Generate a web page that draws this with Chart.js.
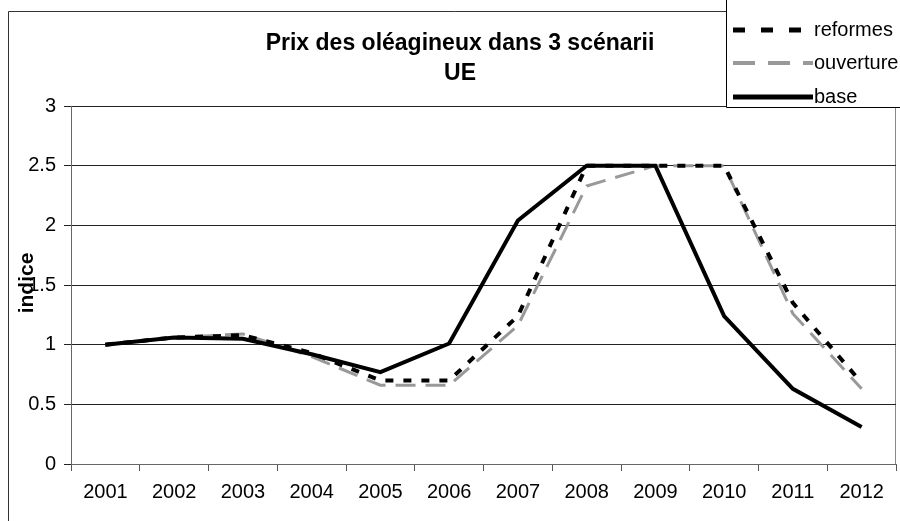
<!DOCTYPE html>
<html>
<head>
<meta charset="utf-8">
<script src="https://cdn.jsdelivr.net/npm/chart.js@4.4.1/dist/chart.umd.min.js"></script>
<style>
  html, body { margin: 0; padding: 0; background: #fff; }
  #wrap { width: 900px; height: 521px; position: relative; }
</style>
</head>
<body>
<div id="wrap"><canvas id="chartPrix" width="900" height="521"></canvas></div>
<script>
// Données
const annees = ['2001', '2002', '2003', '2004', '2005', '2006', '2007', '2008', '2009', '2010', '2011', '2012'];
const reformes = [1.0, 1.06, 1.08, 0.93, 0.70, 0.70, 1.24, 2.5, 2.5, 2.5, 1.35, 0.68];
const ouverture = [1.0, 1.06, 1.09, 0.90, 0.66, 0.66, 1.16, 2.33, 2.5, 2.5, 1.26, 0.63];
const base = [1.0, 1.06, 1.05, 0.92, 0.77, 1.01, 2.04, 2.5, 2.5, 1.24, 0.63, 0.31];
const titre = ['Prix des oléagineux dans 3 scénarii', 'UE'];
const titreAxeY = 'indice';

const police = '"Liberation Sans", Arial, sans-serif';

// Cadre, titre, légende et titre de l'axe Y dessinés à la main (style Excel)
const decor = {
    id: 'decor',
    beforeDraw(chart) {
        const ctx = chart.ctx;
        const a = chart.chartArea;
        ctx.save();
        // cadre du graphique
        ctx.strokeStyle = '#333';
        ctx.lineWidth = 1;
        ctx.beginPath();
        ctx.moveTo(8.5, 521);
        ctx.lineTo(8.5, 11.5);
        ctx.lineTo(900, 11.5);
        ctx.stroke();
        // bord de la zone de traçage
        ctx.strokeStyle = '#888';
        ctx.strokeRect(a.left + 0.5, a.top + 0.5, a.right - a.left - 1, a.bottom - a.top);
        ctx.restore();
    },
    afterDraw(chart) {
        const ctx = chart.ctx;
        ctx.save();
        // titre
        ctx.fillStyle = '#000';
        ctx.font = 'bold 23px ' + police;
        ctx.textAlign = 'center';
        ctx.textBaseline = 'middle';
        ctx.fillText(titre[0], 460, 44);
        ctx.fillText(titre[1], 460, 74);

        // titre de l'axe Y
        ctx.save();
        ctx.translate(27, 283);
        ctx.rotate(-Math.PI / 2);
        ctx.font = 'bold 21px ' + police;
        ctx.fillText(titreAxeY, 0, 0);
        ctx.restore();

        // légende
        ctx.fillStyle = '#fff';
        ctx.fillRect(726, 0, 174, 107);
        ctx.strokeStyle = '#000';
        ctx.lineWidth = 1;
        ctx.beginPath();
        ctx.moveTo(726.5, 0);
        ctx.lineTo(726.5, 107.5);
        ctx.lineTo(900, 107.5);
        ctx.stroke();
        const ordre = [1, 2, 0];
        const ys = [30, 63, 97];
        ordre.forEach((i, k) => {
            const ds = chart.data.datasets[i];
            ctx.strokeStyle = ds.borderColor;
            ctx.lineWidth = ds.borderWidth + 1;
            ctx.setLineDash(ds.legendDash || []);
            ctx.beginPath();
            ctx.moveTo(733, ys[k]);
            ctx.lineTo(813, ys[k]);
            ctx.stroke();
            ctx.setLineDash([]);
            ctx.fillStyle = '#000';
            ctx.font = '20px ' + police;
            ctx.textAlign = 'left';
            ctx.fillText(ds.label, 814, ys[k]);
        });
        ctx.restore();
    }
};

const chartPrix = new Chart(document.getElementById('chartPrix'), {
    type: 'line',
    data: {
        labels: annees,
        datasets: [
            {
                label: 'base',
                data: base,
                borderColor: '#000',
                borderWidth: 4,
                pointRadius: 0,
                order: 0
            },
            {
                label: 'reformes',
                data: reformes,
                borderColor: '#000',
                borderWidth: 4,
                borderDash: [8, 10],
                legendDash: [12, 16],
                pointRadius: 0,
                order: 1
            },
            {
                label: 'ouverture',
                data: ouverture,
                borderColor: '#999',
                borderWidth: 3,
                borderDash: [20, 10],
                legendDash: [22, 13],
                pointRadius: 0,
                order: 2
            }
        ]
    },
    options: {
        responsive: false,
        animation: false,
        devicePixelRatio: 1,
        layout: { padding: { left: 0, top: 106, right: 4, bottom: 12 } },
        plugins: {
            legend: { display: false },
            title: { display: false },
            tooltip: { enabled: false }
        },
        scales: {
            x: {
                offset: true,
                grid: {
                    offset: true,
                    drawOnChartArea: false,
                    drawTicks: true,
                    tickLength: 7,
                    color: '#555'
                },
                border: { color: '#666' },
                ticks: {
                    color: '#000',
                    font: { family: police, size: 20 },
                    padding: 9,
                    maxRotation: 0,
                    autoSkip: false
                },
                afterFit(scale) { scale.height = 45; }
            },
            y: {
                min: 0,
                max: 3,
                ticks: {
                    stepSize: 0.5,
                    color: '#000',
                    font: { family: police, size: 20 },
                    padding: 8,
                    callback: (v) => String(v)
                },
                grid: {
                    color: '#222',
                    tickLength: 7
                },
                border: { color: '#666' },
                afterFit(scale) { scale.width = 71; }
            }
        }
    },
    plugins: [decor]
});
</script>
</body>
</html>
